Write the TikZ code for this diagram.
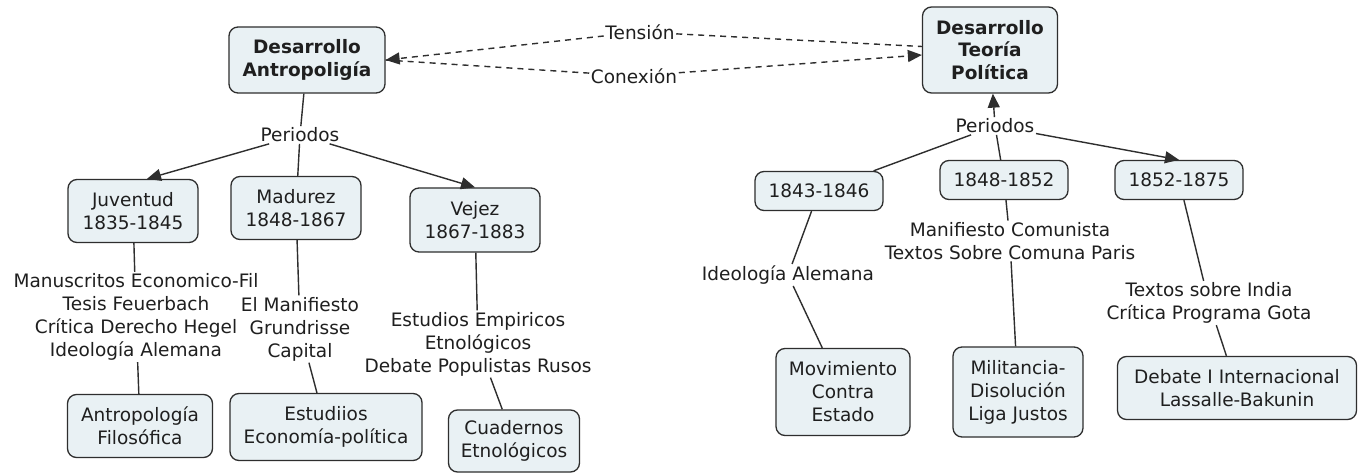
\documentclass[tikz,border=0pt]{standalone}
\usepackage{fontspec}
\setmainfont{DejaVu Sans}
\usepackage{tikz}
\usetikzlibrary{arrows.meta}
\definecolor{boxfill}{HTML}{E9F1F4}
\definecolor{boxdraw}{HTML}{2E2E2E}
\tikzstyle{conceptbox} = [rectangle, rounded corners=9pt, draw=boxdraw, line width=1.3pt, fill=boxfill, align=center, text=black!88, inner sep=2pt]
\tikzstyle{phrase} = [align=center, inner sep=1.5pt, text=black!88]
\tikzstyle{link} = [line width=1.4pt, draw=boxdraw]
\tikzstyle{arrow} = [link, ->]
\tikzstyle{dashline} = [link, dash pattern=on 6pt off 5pt]

\begin{document}
\begin{tikzpicture}[x=1pt, y=-1pt, >={Triangle[length=14pt,width=12pt]}, font=\fontsize{18.5}{23}\selectfont]
\path [use as bounding box, fill=white] (0,0) rectangle (1362,473);
\node (DA) [conceptbox, minimum width=156pt, minimum height=66pt, font=\fontsize{18.5}{23}\selectfont\bfseries] at (307,60) {Desarrollo\\Antropoligía};
\node (DTP) [conceptbox, minimum width=135pt, minimum height=86pt, font=\fontsize{18.5}{22.5}\selectfont\bfseries] at (990,50) {Desarrollo\\Teoría\\Política};
\node (tens) [phrase] at (640,32) {Tensión};
\node (conx) [phrase] at (634,76) {Conexión};
\draw [dashline, ->] (tens) -- (DA.east);
\draw [dashline] (tens) -- (DTP);
\draw [dashline] (DA.east) -- (conx);
\draw [dashline, ->] (conx) -- (DTP);
\node (perL) [phrase] at (300,135) {Periodos};
\node (juv) [conceptbox, minimum width=130pt, minimum height=63pt] at (133,211) {Juventud\\1835-1845};
\node (mad) [conceptbox, minimum width=130pt, minimum height=63pt] at (296,208) {Madurez\\1848-1867};
\node (vej) [conceptbox, minimum width=130pt, minimum height=64pt] at (475,220) {Vejez\\1867-1883};
\draw [link] (DA) -- (perL);
\draw [arrow] (perL) -- ([xshift=14pt]juv.north);
\draw [link] (perL) -- (mad);
\draw [arrow] (perL) -- (vej.north);
\node (juvL) [phrase] at (136,317) {Manuscritos Economico-Fil\\Tesis Feuerbach\\Crítica Derecho Hegel\\Ideología Alemana};
\node (madL) [phrase] at (300,329) {El Manifiesto\\Grundrisse\\Capital};
\node (vejL) [phrase] at (478,344) {Estudios Empiricos\\Etnológicos\\Debate Populistas Rusos};
\node (antrop) [conceptbox, minimum width=145pt, minimum height=63pt] at (140,426) {Antropología\\Filosófica};
\node (econ) [conceptbox, minimum width=192pt, minimum height=67pt] at (326,427) {Estudiios\\Economía-política};
\node (cuad) [conceptbox, minimum width=131pt, minimum height=62pt] at (514,441) {Cuadernos\\Etnológicos};
\draw [link] (juv) -- (juvL);
\draw [link] (juvL) -- (antrop);
\draw [link] (mad) -- (madL);
\draw [link] (madL) -- (econ);
\draw [link] (vej) -- (vejL);
\draw [link] (vejL) -- (cuad);
\node (perR) [phrase] at (995,126) {Periodos};
\node (p1) [conceptbox, minimum width=128pt, minimum height=39pt] at (819,191) {1843-1846};
\node (p2) [conceptbox, minimum width=128pt, minimum height=39pt] at (1004,180) {1848-1852};
\node (p3) [conceptbox, minimum width=128pt, minimum height=39pt] at (1179,180) {1852-1875};
\draw [arrow] (perR) -- (DTP);
\draw [link] (perR) -- (p1);
\draw [link] (perR) -- (p2);
\draw [arrow] (perR) -- (p3.north);
\node (p1L) [phrase] at (788,275) {Ideología Alemana};
\node (p2L) [phrase] at (1010,241) {Manifiesto Comunista\\Textos Sobre Comuna Paris};
\node (p3L) [phrase] at (1209,303) {Textos sobre India\\Crítica Programa Gota};
\node (mov) [conceptbox, minimum width=134pt, minimum height=87pt] at (843,392) {Movimiento\\Contra\\Estado};
\node (mil) [conceptbox, minimum width=130pt, minimum height=90pt] at (1018,392) {Militancia-\\Disolución\\Liga Justos};
\node (deb) [conceptbox, minimum width=239pt, minimum height=63pt] at (1237,388) {Debate I Internacional\\Lassalle-Bakunin};
\draw [link] (p1) -- (p1L);
\draw [link] (p1L) -- (mov);
\draw [link] (p2) -- (p2L);
\draw [link] (p2L) -- (mil);
\draw [link] (p3) -- (p3L);
\draw [link] (p3L) -- (deb);
\end{tikzpicture}
\end{document}
